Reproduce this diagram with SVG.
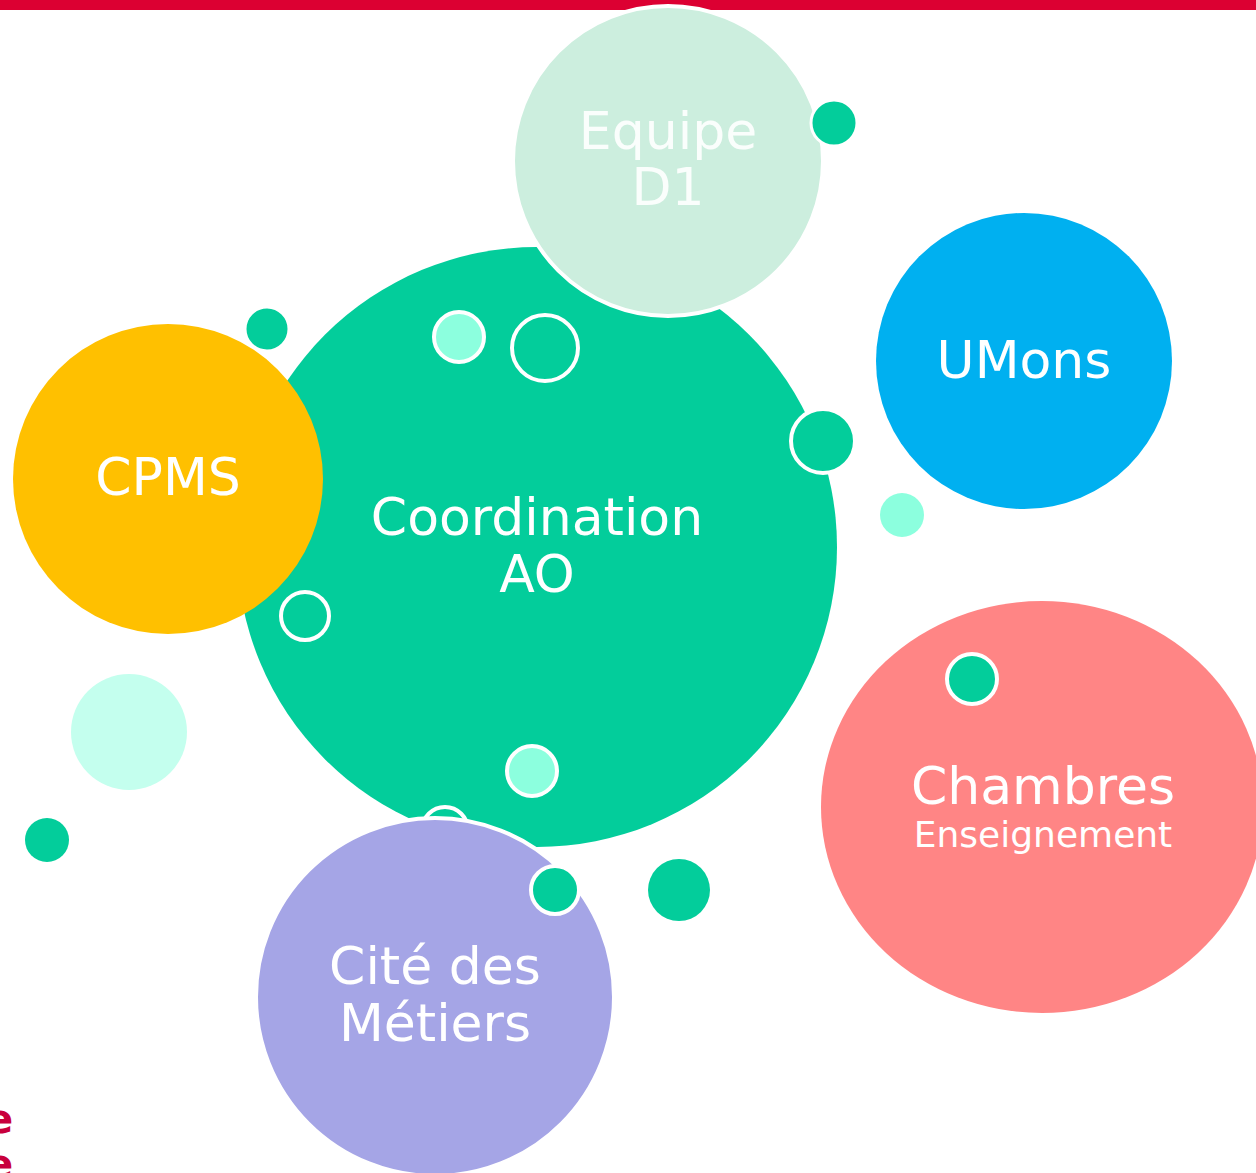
<svg xmlns="http://www.w3.org/2000/svg" width="1256" height="1173" viewBox="0 0 1256 1173">
<style>
.lbl{font-family:"DejaVu Sans",Verdana,sans-serif;fill:#fff;text-anchor:middle;font-size:52px}
.teal{fill:#03CD9B}
.aqua{fill:#8CFFDE}
.ws{stroke:#fff;stroke-width:4}
.red{font-family:"DejaVu Sans",sans-serif;font-size:40px;font-weight:bold;fill:#C8003C}
</style>
<rect width="1256" height="1173" fill="#fff"/>
<rect x="0" y="0" width="1256" height="10" fill="#DC0032"/>
<g id="decor-back">
<circle cx="129" cy="732" r="58" fill="#C4FFEE"/>
<circle cx="47" cy="840" r="22" class="teal"/>
<circle cx="902" cy="515" r="22" class="aqua"/>
<circle cx="679" cy="890" r="31" class="teal"/>
</g>
<g id="connectors"></g>
<g id="coordination">
<circle cx="537" cy="547" r="300" class="teal"/>
<text class="lbl" x="537" y="535">Coordination</text>
<text class="lbl" x="537" y="592">AO</text>
</g>
<g id="equipe">
<circle cx="668" cy="161" r="155" fill="#CCEEDE" class="ws"/>
<text class="lbl" x="668" y="149" fill-opacity="0.9">Equipe</text>
<text class="lbl" x="668" y="205" fill-opacity="0.9">D1</text>
</g>
<g id="umons">
<circle cx="1024" cy="361" r="148" fill="#00B0F0"/>
<text class="lbl" x="1024" y="378">UMons</text>
</g>
<g id="cpms">
<circle cx="168" cy="479" r="155" fill="#FFC000"/>
<text class="lbl" x="168" y="495">CPMS</text>
</g>
<g id="chambres">
<ellipse cx="1042" cy="807" rx="221" ry="206" fill="#FF8585"/>
<text class="lbl" x="1043" y="804">Chambres</text>
<text class="lbl" x="1043" y="847" style="font-size:36px">Enseignement</text>
</g>
<circle cx="445" cy="830" r="23" class="teal ws"/>
<g id="cite">
<circle cx="435" cy="997" r="179" fill="#A5A5E6" class="ws"/>
<text class="lbl" x="435" y="984">Cité des</text>
<text class="lbl" x="435" y="1041">Métiers</text>
</g>
<g id="decor-front">
<circle cx="834" cy="123" r="23" class="teal ws" style="stroke-width:3"/>
<circle cx="267" cy="329" r="22" class="teal ws" style="stroke-width:3"/>
<circle cx="459" cy="337" r="25" class="aqua ws"/>
<circle cx="545" cy="348" r="33" class="teal ws"/>
<circle cx="823" cy="441" r="32" class="teal ws"/>
<circle cx="305" cy="616" r="24" class="teal ws"/>
<circle cx="532" cy="771" r="25" class="aqua ws"/>
<circle cx="555" cy="890" r="24" class="teal ws"/>
<circle cx="972" cy="679" r="25" class="teal ws"/>
</g>
<text class="red" x="-14" y="1133">e</text>
<text class="red" x="-14" y="1178">e</text>
</svg>
